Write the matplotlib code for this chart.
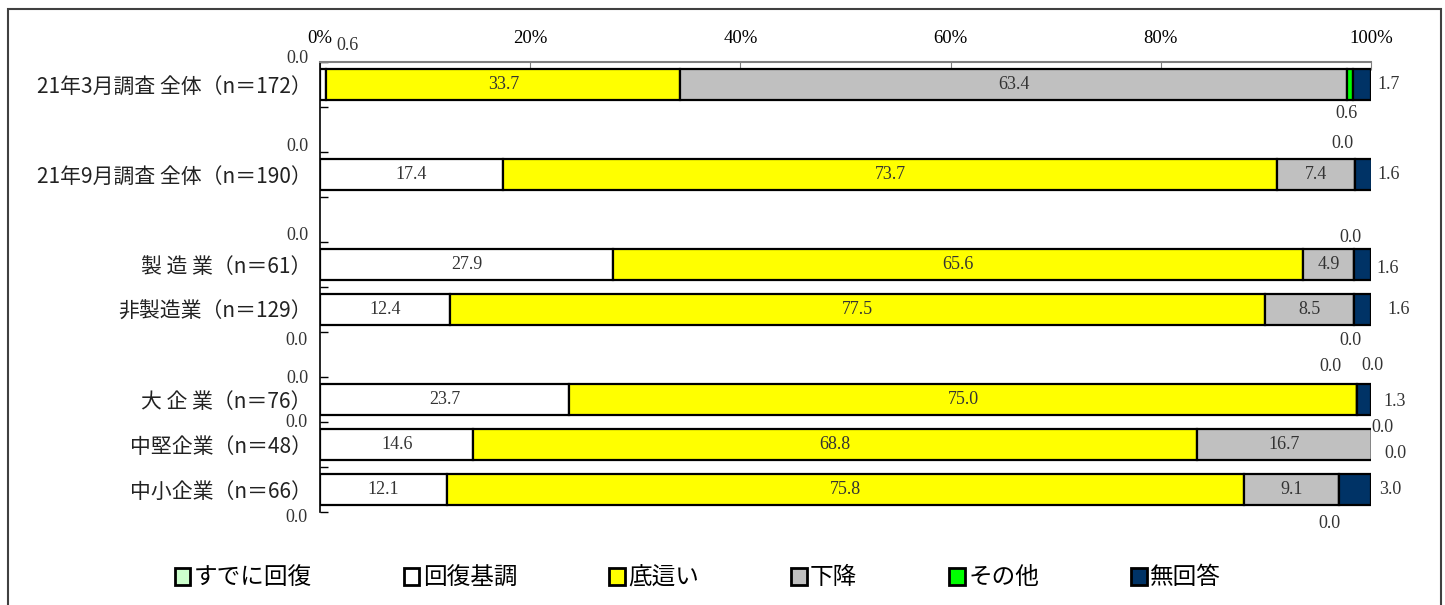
import matplotlib
matplotlib.use("Agg")
import matplotlib.pyplot as plt
from matplotlib.patches import Patch, Rectangle

plt.rcParams['font.family'] = ['Noto Sans CJK JP', 'DejaVu Sans']

# ---- data ---------------------------------------------------------------
categories = [
    "21年3月調査 全体（n＝172）",
    "21年9月調査 全体（n＝190）",
    "製 造 業（n＝61）",
    "非製造業（n＝129）",
    "大 企 業（n＝76）",
    "中堅企業（n＝48）",
    "中小企業（n＝66）",
]
slots = [0, 2, 4, 5, 7, 8, 9]

series_names = ["すでに回復", "回復基調", "底這い", "下降", "その他", "無回答"]
already_recovered = [0.0, 0.0, 0.0, 0.0, 0.0, 0.0, 0.0]
recovering = [0.6, 17.4, 27.9, 12.4, 23.7, 14.6, 12.1]
bottoming = [33.7, 73.7, 65.6, 77.5, 75.0, 68.8, 75.8]
declining = [63.4, 7.4, 4.9, 8.5, 0.0, 16.7, 9.1]
other = [0.6, 0.0, 0.0, 0.0, 0.0, 0.0, 0.0]
no_answer = [1.7, 1.6, 1.6, 1.6, 1.3, 0.0, 3.0]
series_values = [already_recovered, recovering, bottoming, declining, other, no_answer]

xticks = [0, 20, 40, 60, 80, 100]
xtick_labels = ["0%", "20%", "40%", "60%", "80%", "100%"]

# ---- styling ------------------------------------------------------------
colors = ["#CCFFCC", "#FFFFFF", "#FFFF00", "#C0C0C0", "#00FF00", "#003366"]
serif = ["Liberation Serif", "DejaVu Serif"]
num_font = dict(family=serif, size=13)

# pixel offsets for labels of narrow segments, keyed by (row, series)
outside_offsets = {
    (0, 0): (-23, 26), (0, 1): (24, 39), (0, 4): (-3, -29), (0, 5): (27, 0),
    (1, 0): (-23, 28), (1, 4): (-13, 31), (1, 5): (25, 0),
    (2, 0): (-23, 29), (2, 4): (-4, 27), (2, 5): (25, -4),
    (3, 0): (-24, -31), (3, 4): (-4, -31), (3, 5): (36, 0),
    (4, 0): (-23, 21), (4, 3): (-27, 33), (4, 4): (15, 34), (4, 5): (30, -2),
    (5, 0): (-24, 22), (5, 4): (10, 17), (5, 5): (23, -9),
    (6, 0): (-24, -28), (6, 4): (-10, -34), (6, 5): (35, 0),
}

W, H = 1445, 605
fig = plt.figure(figsize=(W / 100, H / 100), dpi=100)
ax_left, ax_right, ax_top, ax_bottom = 320, 1371, 62, 512
ax = fig.add_axes([ax_left / W, 1 - ax_bottom / H,
                   (ax_right - ax_left) / W, (ax_bottom - ax_top) / H])

# frame around the whole chart
fig.patches.append(Rectangle((8 / W, -0.01), (1441 - 8) / W, 1 - 9 / H + 0.01,
                             transform=fig.transFigure, fill=False,
                             edgecolor="#404040", linewidth=1.5))

bar_h = 0.67
left = [0.0] * len(categories)
for s, (name, vals, col) in enumerate(zip(series_names, series_values, colors)):
    ax.barh(slots, vals, left=left, height=bar_h, color=col,
            edgecolor="black", linewidth=1.6, label=name, zorder=2)
    for r, v in enumerate(vals):
        center = left[r] + v / 2
        txt = f"{v:.1f}"
        if v >= 4:
            ax.text(center, slots[r], txt, ha="center", va="center",
                    color="#333333", zorder=3, **num_font)
        elif (r, s) in outside_offsets:
            dx, dy = outside_offsets[(r, s)]
            ax.annotate(txt, (center, slots[r]), xytext=(dx, dy),
                        textcoords="offset pixels", ha="center", va="center",
                        color="#333333", annotation_clip=False, **num_font)
    left = [l + v for l, v in zip(left, vals)]

ax.set_xlim(0, 100)
ax.set_ylim(9.5, -0.5)

# top percentage axis
ax.xaxis.tick_top()
ax.set_xticks(xticks)
ax.set_xticklabels(xtick_labels, fontdict=dict(family=serif, size=13.5))
ax.tick_params(axis="x", direction="in", length=6, color="#808080", pad=11)

# category axis
ax.set_yticks(slots)
ax.set_yticklabels(categories, fontsize=15, color="#222222")
ax.tick_params(axis="y", which="major", length=0, pad=6)
ax.set_yticks([b - 0.5 for b in range(11)], minor=True)
ax.tick_params(axis="y", which="minor", direction="in", length=6, color="black", width=1)

for side in ("right", "bottom"):
    ax.spines[side].set_visible(False)
ax.spines["top"].set_color("#808080")
ax.spines["top"].set_linewidth(1.5)
ax.spines["left"].set_color("black")
ax.spines["left"].set_linewidth(1.2)

handles = [Patch(facecolor=c, edgecolor="black", linewidth=2) for c in colors]
fig.legend(handles, series_names, loc="center", bbox_to_anchor=(0.483, 1 - 578 / H),
           ncol=6, frameon=False, fontsize=17, handlelength=0.65, handleheight=0.75,
           handletextpad=0.15, columnspacing=3.9)

fig.savefig("out.png", dpi=100)
